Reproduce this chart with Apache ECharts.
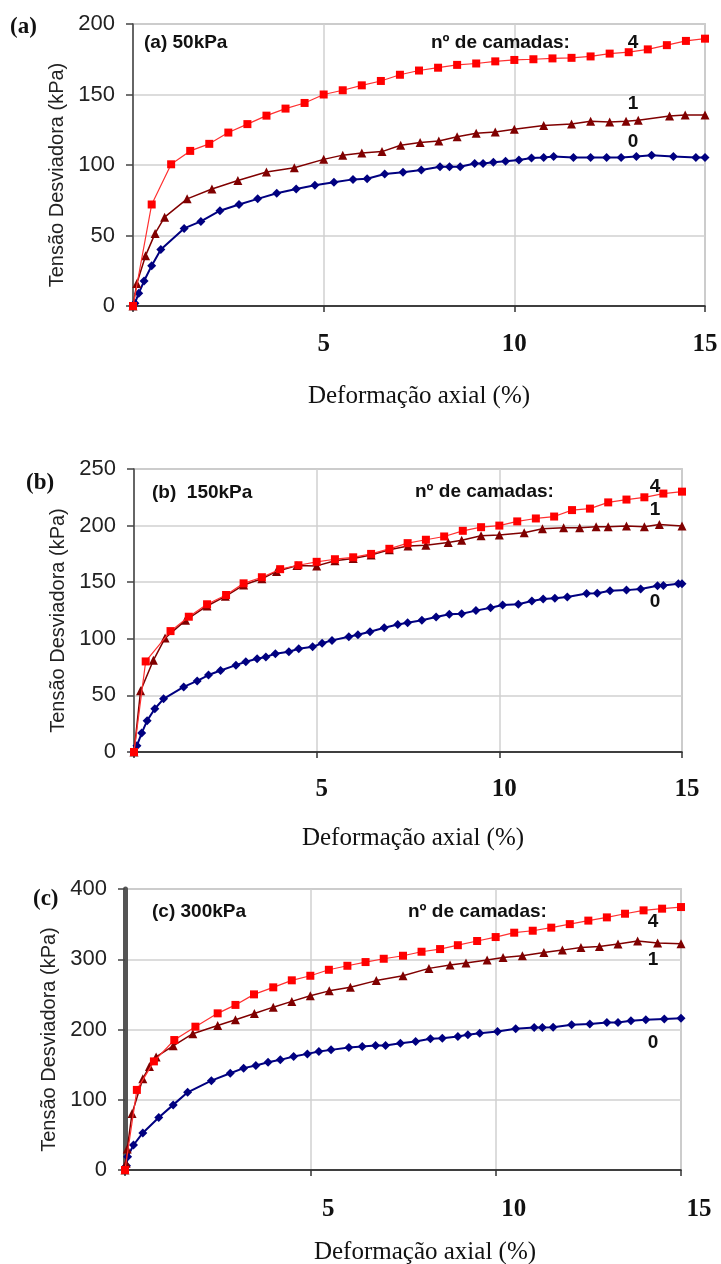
<!DOCTYPE html>
<html>
<head>
<meta charset="utf-8">
<script src="https://cdn.jsdelivr.net/npm/echarts@6.0.0/dist/echarts.min.js"></script>
<style>
  html, body { margin: 0; padding: 0; background: #fff; }
  #chart { width: 721px; height: 1264px; }
</style>
</head>
<body>
<div id="chart"></div>
<script>
// tick labels
var xTicks = [0, 5, 10, 15];
var yTicksA = [0, 50, 100, 150, 200];
var yTicksB = [0, 50, 100, 150, 200, 250];
var yTicksC = [0, 100, 200, 300, 400];

// (a) 50kPa  -  [deformação %, tensão kPa]
var a4 = [[0,0],[0.49,72],[1.0,100.5],[1.5,110],[2.0,115],[2.5,123],[3.0,129],[3.5,135],[4.0,140],[4.5,144],[5.0,150],[5.5,153],[6.0,156.5],[6.5,159.6],[7.0,164],[7.5,167],[8.0,169],[8.5,171],[9.0,172],[9.5,173.5],[10.0,174.5],[10.5,175],[11.0,175.6],[11.5,176],[12.0,177],[12.5,179],[13.0,180],[13.5,182],[14.0,185],[14.5,188],[15.0,189.6]];
var a1 = [[0,0],[0.1,16],[0.33,35.7],[0.58,51.5],[0.83,63],[1.42,76],[2.07,83],[2.75,89],[3.5,95],[4.23,98],[5.0,104],[5.5,107],[6.0,108.5],[6.53,109.5],[7.02,114],[7.53,116],[8.02,117],[8.5,120],[9.0,122.5],[9.5,123.4],[10.0,125.3],[10.77,128],[11.5,129],[12.0,131],[12.5,130.5],[12.93,131],[13.25,131.7],[14.07,134.8],[14.48,135.5],[15.0,135.5]];
var a0 = [[0,0],[0.05,2],[0.15,9],[0.29,17.7],[0.49,28.6],[0.73,40],[1.34,55],[1.78,60],[2.28,67.6],[2.78,72],[3.27,76],[3.77,80],[4.28,83],[4.77,85.6],[5.27,87.7],[5.77,89.8],[6.14,90.3],[6.6,93.6],[7.08,94.8],[7.56,96.5],[8.05,98.8],[8.3,98.8],[8.58,98.8],[8.96,101],[9.18,101],[9.45,102],[9.77,102.6],[10.12,103.5],[10.45,105],[10.77,105.4],[11.03,106],[11.55,105.4],[12.0,105.4],[12.42,105.4],[12.8,105.4],[13.2,106],[13.6,107],[14.17,106],[14.76,105.4],[15.0,105.4]];

// (b) 150kPa
var b4 = [[0,0],[0.32,80],[1.0,106.8],[1.5,119.5],[2.0,130.5],[2.52,138.7],[3.0,149],[3.5,154.4],[4.0,161.5],[4.5,165],[5.0,168],[5.5,170.3],[6.0,172],[6.49,175],[6.99,179.5],[7.49,184.5],[7.99,187.5],[8.49,190.4],[9.0,195.4],[9.5,198.6],[10.0,200],[10.49,203.7],[11.0,206.3],[11.5,208],[11.99,213.7],[12.48,215],[12.98,220.5],[13.48,223],[13.97,225],[14.49,228.3],[15.0,230]];
var b1 = [[0,0],[0.18,54],[0.53,81],[0.85,100.6],[1.41,116.3],[2.0,129],[2.5,137.5],[3.0,147.5],[3.5,153],[3.9,159.5],[4.46,164.7],[5.0,164.4],[5.5,169],[6.0,171],[6.49,174],[6.99,178.6],[7.5,182],[7.99,182.6],[8.6,185],[8.97,187],[9.5,191],[10.0,191.6],[10.68,193.7],[11.18,197.2],[11.76,198],[12.2,198],[12.65,199],[12.98,199],[13.48,199.6],[13.97,199],[14.38,201],[15.0,199.6]];
var b0 = [[0,0],[0.08,5.6],[0.21,16.7],[0.36,27.7],[0.57,38.2],[0.81,47],[1.36,57.5],[1.73,62.8],[2.04,68],[2.37,72],[2.79,76.7],[3.06,79.7],[3.37,82.3],[3.61,84],[3.87,86.8],[4.24,88.5],[4.51,91.2],[4.89,93],[5.15,96],[5.42,98.6],[5.88,101.8],[6.13,103.6],[6.46,106.3],[6.85,109.8],[7.22,112.7],[7.49,114.2],[7.88,116.3],[8.27,119.2],[8.63,121.6],[8.97,122.2],[9.36,124.9],[9.76,127.5],[10.09,129.9],[10.52,130.5],[10.89,133.4],[11.2,135.2],[11.52,135.8],[11.86,137],[12.39,140],[12.68,140.3],[13.03,142.4],[13.48,143],[13.87,143.9],[14.33,146.8],[14.49,147],[14.9,148.6],[15.0,148.6]];

// (c) 300kPa
var c4 = [[0,0],[0.32,114],[0.78,154.6],[1.33,185],[1.9,204],[2.5,223],[2.98,235],[3.48,250],[4.0,260],[4.5,270],[5.0,276.5],[5.5,285],[6.0,290.7],[6.49,296],[6.98,300.7],[7.5,305],[8.0,310.7],[8.5,314.5],[8.98,320],[9.5,326],[10.0,331.6],[10.5,337.8],[11.0,340.6],[11.5,345],[12.0,350],[12.5,355],[13.0,359.6],[13.49,364.8],[13.99,369.6],[14.49,372],[15.0,374.3]];
var c1 = [[0,0],[0.03,9.5],[0.06,30],[0.19,80.5],[0.48,130],[0.66,147.3],[0.84,161],[1.3,176.7],[1.83,194],[2.5,205.7],[2.98,214],[3.49,222.8],[4.0,231.8],[4.5,240],[5.0,248],[5.51,255],[6.08,260],[6.78,269.6],[7.5,276.5],[8.2,287],[8.77,291.7],[9.2,294.5],[9.77,299],[10.2,302.6],[10.72,305],[11.3,309.7],[11.8,313],[12.3,316.8],[12.8,318],[13.3,321.6],[13.83,326],[14.37,323],[15.0,322]];
var c0 = [[0,0],[0.04,6],[0.07,19],[0.23,35.6],[0.48,52.8],[0.91,74.8],[1.3,92.7],[1.69,110.6],[2.33,127.2],[2.84,137.8],[3.2,145],[3.53,148.7],[3.86,153.4],[4.19,156.8],[4.55,161.5],[4.92,165.3],[5.23,168.6],[5.56,171],[6.04,174.3],[6.4,175.8],[6.76,177.2],[7.03,177.2],[7.43,180.5],[7.84,183],[8.24,186.7],[8.56,187.6],[8.98,190],[9.25,192.4],[9.57,194.8],[10.05,197],[10.54,201],[11.04,202.9],[11.26,202.9],[11.55,203.3],[12.05,206.7],[12.54,208],[13.0,210],[13.3,210],[13.65,212.4],[14.05,213.8],[14.55,215],[15.0,216]];

var chart = echarts.init(document.getElementById('chart'));

var sans = 'Liberation Sans';
var serif = 'Liberation Serif';

function xAxisFor(i, labelMargin, nameGap, labelShift, nameShift) {
  return {
    type: 'value', gridIndex: i,
    min: xTicks[0], max: xTicks[xTicks.length - 1], interval: xTicks[1] - xTicks[0],
    name: 'Deformação axial (%)', nameLocation: 'middle', nameGap: nameGap,
    nameTextStyle: { fontFamily: serif, fontSize: 25, color: '#111', padding: [0, 0, 0, nameShift] },
    axisLine: { show: true, onZero: false, lineStyle: { color: '#111', width: 1.5 } },
    axisTick: { show: true, length: 6, lineStyle: { color: '#333', width: 1.5 } },
    axisLabel: {
      margin: labelMargin, fontFamily: serif, fontWeight: 'bold', fontSize: 25, color: '#111',
      padding: [0, 0, 0, labelShift],
      formatter: function (v) { return v === 0 ? '' : v; }
    },
    splitLine: { show: true, lineStyle: { color: '#d0d0d0', width: 1.5 } }
  };
}

function yAxisFor(i, ticks, axisWidth, axisColor, nameGap) {
  return {
    type: 'value', gridIndex: i,
    min: ticks[0], max: ticks[ticks.length - 1], interval: ticks[1] - ticks[0],
    name: 'Tensão Desviadora (kPa)', nameLocation: 'middle', nameRotate: 90, nameGap: nameGap,
    nameTextStyle: { fontFamily: sans, fontSize: 20, color: '#222', padding: [0, 20, 0, 0] },
    axisLine: { show: true, lineStyle: { color: axisColor, width: axisWidth } },
    axisTick: { show: true, length: 7, lineStyle: { color: '#444', width: 1.5 } },
    axisLabel: { margin: 18, fontFamily: sans, fontSize: 22, color: '#222' },
    splitLine: { show: true, lineStyle: { color: '#d0d0d0', width: 1.5 } }
  };
}

function seriesFor(i, d0, d1, d4) {
  return [
    { type: 'line', xAxisIndex: i, yAxisIndex: i, data: d0, symbol: 'diamond', symbolSize: 9,
      itemStyle: { color: '#000080' }, lineStyle: { color: '#000080', width: 2 }, z: 2 },
    { type: 'line', xAxisIndex: i, yAxisIndex: i, data: d1, symbol: 'triangle', symbolSize: 9,
      itemStyle: { color: '#800000' }, lineStyle: { color: '#800000', width: 1.5 }, z: 3 },
    { type: 'line', xAxisIndex: i, yAxisIndex: i, data: d4, symbol: 'rect', symbolSize: 8,
      itemStyle: { color: '#ff0000' }, lineStyle: { color: '#ff3030', width: 1.2 }, z: 4 }
  ];
}

function txt(x, y, s, font, opts) {
  opts = opts || {};
  return {
    type: 'text', x: x, y: y, z: 10,
    style: {
      text: s, fontFamily: font, fontSize: opts.size || 19, fontWeight: 'bold',
      fill: '#111', align: opts.align || 'left', verticalAlign: 'middle'
    }
  };
}

var gridBase = { show: true, borderColor: '#aaa', borderWidth: 1.5, outerBoundsMode: 'none', containLabel: false };

var option = {
  animation: false,
  backgroundColor: '#fff',
  grid: [
    Object.assign({ left: 133, top: 24, width: 572, height: 282 }, gridBase),
    Object.assign({ left: 134, top: 469, width: 548, height: 283 }, gridBase),
    Object.assign({ left: 125, top: 889, width: 556, height: 281 }, gridBase)
  ],
  xAxis: [
    xAxisFor(0, 26, 78, 0, 0),
    xAxisFor(1, 25, 74, 10, 10),
    xAxisFor(2, 27, 70, 36, 44)
  ],
  yAxis: [
    yAxisFor(0, yTicksA, 1.5, '#444', 52),
    yAxisFor(1, yTicksB, 1.5, '#444', 52),
    yAxisFor(2, yTicksC, 5, '#555', 54)
  ],
  series: [].concat(seriesFor(0, a0, a1, a4), seriesFor(1, b0, b1, b4), seriesFor(2, c0, c1, c4)),
  graphic: [
    txt(10, 27, '(a)', serif, { size: 23 }),
    txt(144, 43, '(a) 50kPa', sans),
    txt(431, 43, 'nº de camadas:', sans),
    txt(633, 43, '4', sans, { align: 'center' }),
    txt(633, 104, '1', sans, { align: 'center' }),
    txt(633, 142, '0', sans, { align: 'center' }),

    txt(26, 483, '(b)', serif, { size: 23 }),
    txt(152, 493, '(b)  150kPa', sans),
    txt(415, 492, 'nº de camadas:', sans),
    txt(655, 487, '4', sans, { align: 'center' }),
    txt(655, 510, '1', sans, { align: 'center' }),
    txt(655, 602, '0', sans, { align: 'center' }),

    txt(33, 899, '(c)', serif, { size: 23 }),
    txt(152, 912, '(c) 300kPa', sans),
    txt(408, 912, 'nº de camadas:', sans),
    txt(653, 922, '4', sans, { align: 'center' }),
    txt(653, 960, '1', sans, { align: 'center' }),
    txt(653, 1043, '0', sans, { align: 'center' })
  ]
};

chart.setOption(option);
</script>
</body>
</html>
